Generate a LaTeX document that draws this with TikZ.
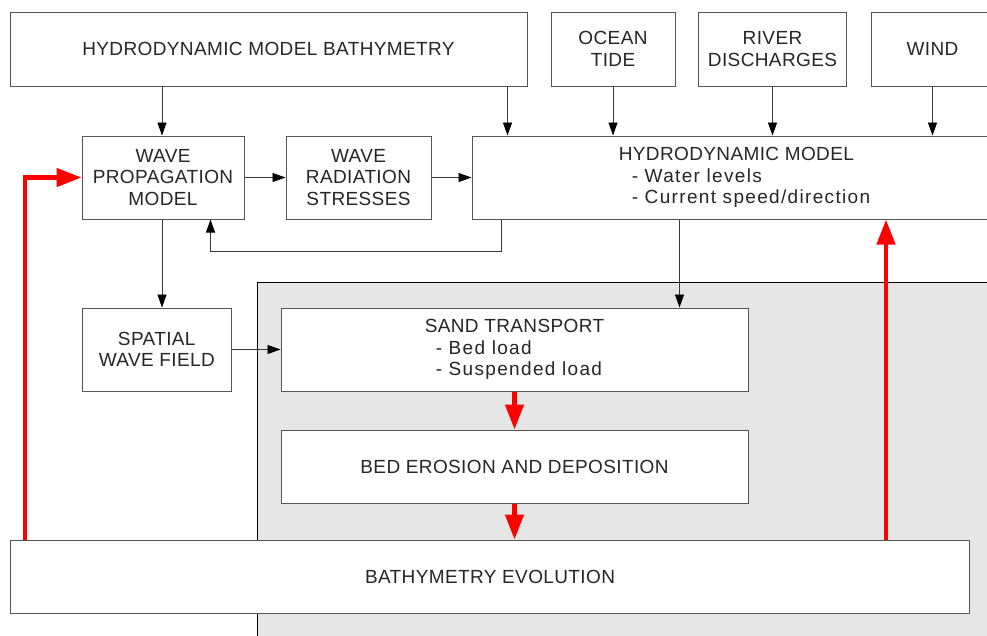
\documentclass[tikz,border=0pt]{standalone}
\usepackage{fontspec}
\setmainfont{Liberation Sans}[LetterSpace=2.0]
\usetikzlibrary{arrows.meta,calc}
\definecolor{boxline}{HTML}{555555}
\definecolor{arrline}{HTML}{3A3A3A}
\definecolor{zone}{HTML}{E6E6E6}
\definecolor{fb}{HTML}{FF0000}
\newcommand{\wideline}[1]{{\addfontfeature{LetterSpace=7.0}#1}}
\begin{document}
\begin{tikzpicture}[x=1pt,y=-1pt,
  box/.style={draw=boxline,line width=1pt,fill=white,inner sep=0pt,align=center,
    font=\fontsize{19}{21.5}\selectfont,text=black!85},
  arr/.style={draw=arrline,line width=0.9pt,-{Triangle[length=13pt,width=9pt,color=black]}},
  redarr/.style={draw=fb,line width=4.5pt,-{Triangle[length=25pt,width=18pt]},line join=miter}]
\useasboundingbox (0,0) rectangle (987,635);
\clip (0,0) rectangle (987,635);
\fill[white] (0,0) rectangle (987,635);
% shaded zone
\filldraw[fill=zone,draw=black,line width=1pt] (257,282) rectangle (1010,660);
% boxes
\node[box,minimum width=517pt,minimum height=74pt] (hmb) at (268.5,49) {HYDRODYNAMIC MODEL BATHYMETRY};
\node[box,minimum width=124pt,minimum height=74pt] (tide) at (613,49) {OCEAN\\TIDE};
\node[box,minimum width=148pt,minimum height=74pt] (river) at (772.5,49) {RIVER\\DISCHARGES};
\node[box,minimum width=123pt,minimum height=74pt] (wind) at (932.5,49) {WIND};
\node[box,minimum width=162pt,minimum height=83pt] (wpm) at (163,177.5) {WAVE\\PROPAGATION\\MODEL};
\node[box,minimum width=145pt,minimum height=83pt] (wrs) at (358.5,177.5) {WAVE\\RADIATION\\STRESSES};
\node[box,minimum width=545pt,minimum height=83pt,align=left] (hm) at (744.5,177.5) {HYDRODYNAMIC MODEL\\\hspace*{13pt}\wideline{- Water levels}\\\hspace*{13pt}\wideline{- Current speed/direction}};
\node[box,minimum width=149.5pt,minimum height=83pt] (swf) at (156.75,349.5) {SPATIAL\\WAVE FIELD};
\node[box,minimum width=467pt,minimum height=83pt,align=left] (st) at (514.5,349.5) {SAND TRANSPORT\\\hspace*{11pt}\wideline{- Bed load}\\\hspace*{11pt}\wideline{- Suspended load}};
\node[box,minimum width=467pt,minimum height=73pt] (bed) at (514.5,466.5) {BED EROSION AND DEPOSITION};
\node[box,minimum width=959pt,minimum height=73.5pt] (be) at (490,576.75) {BATHYMETRY EVOLUTION};
% black connectors
\draw[arr] ([xshift=-1pt]wpm.north |- hmb.south) -- ([xshift=-1pt]wpm.north);
\draw[arr] ([xshift=-20pt]hmb.south east) -- ([xshift=-20pt]hmb.south east |- hm.north);
\draw[arr] (tide.south) -- (tide.south |- hm.north);
\draw[arr] (river.south) -- (river.south |- hm.north);
\draw[arr] (wind.south) -- (wind.south |- hm.north);
\draw[arr] (wpm.east) -- (wrs.west);
\draw[arr] (wrs.east) -- (wrs.east -| hm.west);
\draw[arr] ([xshift=30pt]hm.south west) -- ++(0,32) -| ([xshift=129pt]wpm.south west);
\draw[arr] ([xshift=-1pt]wpm.south) -- ([xshift=-1pt]wpm.south |- swf.north);
\draw[arr] (swf.east) -- (swf.east -| st.west);
\draw[arr] ([xshift=-69pt]st.north east |- hm.south) -- ([xshift=-69pt]st.north east);
% red feedback connectors
\draw[redarr] (st.south) -- (bed.north);
\draw[redarr] (bed.south) -- (bed.south |- be.north);
\draw[redarr] ([xshift=15pt]be.north west) |- (wpm.west);
\draw[redarr] ([xshift=-84pt]be.north east) -- ([xshift=-84pt]be.north east |- hm.south);
\end{tikzpicture}
\end{document}
